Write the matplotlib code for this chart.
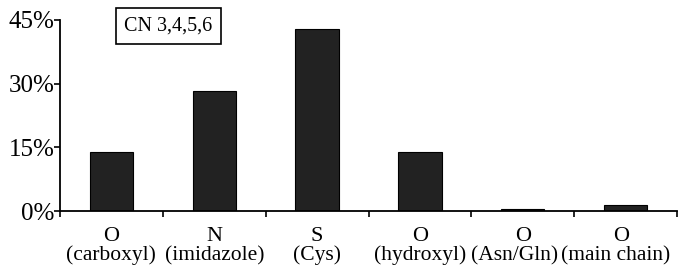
import numpy as np
import matplotlib.pyplot as plt
from matplotlib.ticker import FixedLocator, NullFormatter

atoms = ["O", "N", "S", "O", "O", "O"]
groups = ["(carboxyl)", "(imidazole)", "(Cys)", "(hydroxyl)", "(Asn/Gln)", "(main chain)"]
values = [14.0, 28.2, 42.8, 14.0, 0.5, 1.3]
yticks = [0, 15, 30, 45]

plt.rcParams['font.family'] = ['Liberation Serif', 'DejaVu Serif']

fig = plt.figure(figsize=(6.8, 2.66), dpi=100)
ax = fig.add_axes([60/680, 1 - 211/266, 617/680, 191/266])

x = np.arange(len(values))
ax.bar(x, values, width=0.42, color='#222222', edgecolor='black', linewidth=0.8)

ax.set_xlim(-0.5, len(values) - 0.5)
ax.set_ylim(0, 45)
ax.set_yticks(yticks)
ax.set_yticklabels([f"{v}%" for v in yticks], fontsize=18)

ax.xaxis.set_major_locator(FixedLocator(np.arange(len(values) + 1) - 0.5))
ax.xaxis.set_major_formatter(NullFormatter())
ax.tick_params(axis='x', which='major', length=4, width=1.2, direction='out')
ax.tick_params(axis='y', length=4, width=1.2, direction='out', pad=0)

# category labels, two lines; the last ones are nudged left as in the original
nudge_top = [0, 0, 0, 0, 0, -3]
nudge_bot = [0, 0, 0, 0, -6, -7.5]
for i in x:
    ax.annotate(atoms[i], xy=(i, 0), xycoords=('data', 'axes fraction'),
                xytext=(nudge_top[i], -21.5), textcoords='offset points',
                ha='center', va='baseline', fontsize=16)
    ax.annotate(groups[i], xy=(i, 0), xycoords=('data', 'axes fraction'),
                xytext=(nudge_bot[i], -35.5), textcoords='offset points',
                ha='center', va='baseline', fontsize=15.5)

for s in ['top', 'right']:
    ax.spines[s].set_visible(False)
for s in ['left', 'bottom']:
    ax.spines[s].set_linewidth(1.3)

ax.text(0.104, 1.02, "CN 3,4,5,6", transform=ax.transAxes, fontsize=14.5,
        va='top', ha='left',
        bbox=dict(boxstyle='square,pad=0.42', facecolor='white', edgecolor='black', linewidth=1.2))

fig.savefig("out.png", dpi=100)
